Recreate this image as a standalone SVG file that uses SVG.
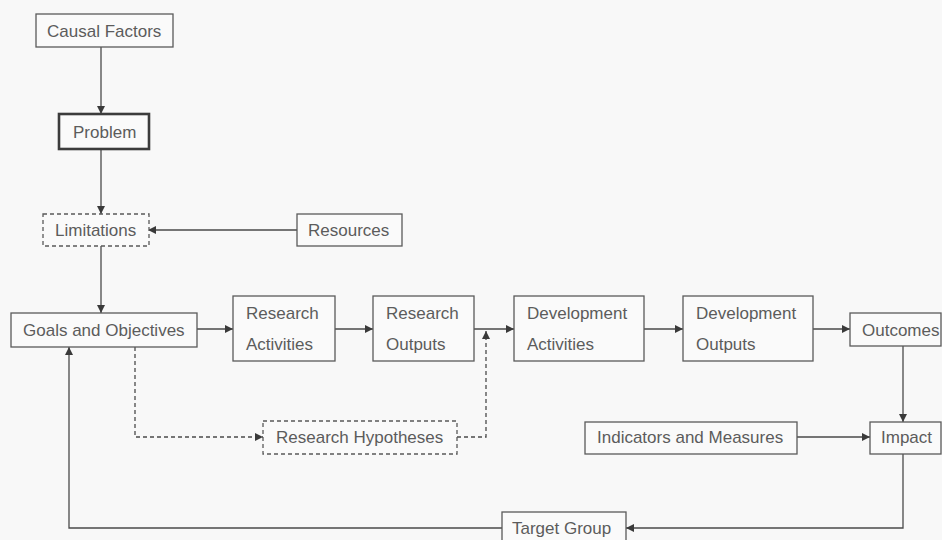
<svg xmlns="http://www.w3.org/2000/svg" width="942" height="540" viewBox="0 0 942 540">
<defs>
<style>
.box{fill:#fafafa;stroke:#5a5a5a;stroke-width:1.3}
.thick{stroke:#3c3c3c;stroke-width:2.6}
.dash{stroke-dasharray:4 3}
.t{font-family:"Liberation Sans",Arial,sans-serif;font-size:17px;fill:#5c5c5c}
.ln{fill:none;stroke:#4a4a4a;stroke-width:1.3}
</style>
<marker id="ah" viewBox="0 0 10 10" refX="10" refY="5" markerWidth="8" markerHeight="8" markerUnits="userSpaceOnUse" orient="auto">
<path d="M0,0 L10,5 L0,10 z" fill="#3a3a3a"/>
</marker>
</defs>
<rect width="942" height="540" fill="#f8f8f8"/>
<g id="connectors">
<line class="ln" x1="101" y1="47" x2="101" y2="114" marker-end="url(#ah)"/>
<line class="ln" x1="101" y1="149" x2="101" y2="214" marker-end="url(#ah)"/>
<line class="ln" x1="297" y1="230" x2="148" y2="230" marker-end="url(#ah)"/>
<line class="ln" x1="101" y1="246" x2="101" y2="313" marker-end="url(#ah)"/>
<line class="ln" x1="197" y1="329" x2="233" y2="329" marker-end="url(#ah)"/>
<line class="ln" x1="335" y1="329" x2="373" y2="329" marker-end="url(#ah)"/>
<line class="ln" x1="474" y1="329" x2="514" y2="329" marker-end="url(#ah)"/>
<line class="ln" x1="644" y1="329" x2="683" y2="329" marker-end="url(#ah)"/>
<line class="ln" x1="813" y1="329" x2="850" y2="329" marker-end="url(#ah)"/>
<line class="ln" x1="903" y1="346" x2="903" y2="422" marker-end="url(#ah)"/>
<line class="ln" x1="797" y1="437" x2="870" y2="437" marker-end="url(#ah)"/>
<polyline class="ln" points="903,454 903,528 626,528" marker-end="url(#ah)"/>
<polyline class="ln" points="502,528 69,528 69,347" marker-end="url(#ah)"/>
<polyline class="ln dash" points="135,347 135,437 263,437" marker-end="url(#ah)"/>
<polyline class="ln dash" points="457,437 486,437 486,331" marker-end="url(#ah)"/>
</g>
<g id="causal-factors"><rect class="box" x="36" y="14" width="137" height="33"/><text class="t" x="47" y="37">Causal Factors</text></g>
<g id="problem"><rect class="box thick" x="59" y="114" width="90" height="35"/><text class="t" x="73" y="138">Problem</text></g>
<g id="limitations"><rect class="box dash" x="43" y="214" width="106" height="32"/><text class="t" x="55" y="236">Limitations</text></g>
<g id="resources"><rect class="box" x="297" y="214" width="105" height="32"/><text class="t" x="308" y="236">Resources</text></g>
<g id="goals"><rect class="box" x="11" y="313" width="186" height="34"/><text class="t" x="23" y="336">Goals and Objectives</text></g>
<g id="research-activities"><rect class="box" x="233" y="296" width="102" height="65"/><text class="t" x="246" y="319">Research</text><text class="t" x="246" y="350">Activities</text></g>
<g id="research-outputs"><rect class="box" x="373" y="296" width="101" height="65"/><text class="t" x="386" y="319">Research</text><text class="t" x="386" y="350">Outputs</text></g>
<g id="development-activities"><rect class="box" x="514" y="296" width="130" height="65"/><text class="t" x="527" y="319">Development</text><text class="t" x="527" y="350">Activities</text></g>
<g id="development-outputs"><rect class="box" x="683" y="296" width="130" height="65"/><text class="t" x="696" y="319">Development</text><text class="t" x="696" y="350">Outputs</text></g>
<g id="outcomes"><rect class="box" x="850" y="313" width="91" height="33"/><text class="t" x="862" y="336">Outcomes</text></g>
<g id="research-hypotheses"><rect class="box dash" x="263" y="421" width="194" height="33"/><text class="t" x="276" y="443">Research Hypotheses</text></g>
<g id="indicators"><rect class="box" x="585" y="422" width="212" height="32"/><text class="t" x="597" y="443">Indicators and Measures</text></g>
<g id="impact"><rect class="box" x="870" y="422" width="71" height="32"/><text class="t" x="881" y="443">Impact</text></g>
<g id="target-group"><rect class="box" x="502" y="512" width="124" height="32"/><text class="t" x="512" y="534">Target Group</text></g>
</svg>
